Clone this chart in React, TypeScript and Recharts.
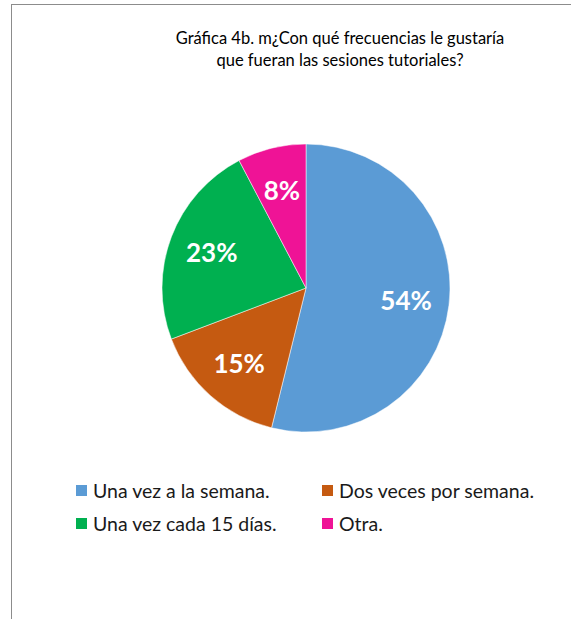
import React from 'react';
import { PieChart, Pie, Cell, Legend } from 'recharts';

const categories = ['Una vez a la semana.', 'Dos veces por semana.', 'Una vez cada 15 días.', 'Otra.'];
const counts = [14, 4, 6, 2];
const colors = ['#5B9BD5', '#C55A11', '#00B050', '#EF1396'];
const titleLines = ['Gráfica 4b. m¿Con qué frecuencias le gustaría', 'que fueran las sesiones tutoriales?'];

const data = categories.map((name, i) => ({ name, value: counts[i] }));

const RAD = Math.PI / 180;

const renderLabel = (props: any) => {
  const { cx, cy, midAngle, outerRadius, percent } = props;
  const r = outerRadius * 0.7;
  const x = cx + r * Math.cos(-midAngle * RAD);
  const y = cy + r * Math.sin(-midAngle * RAD);
  return (
    <text
      x={x}
      y={y}
      fill="#ffffff"
      textAnchor="middle"
      dominantBaseline="central"
      style={{ fontFamily: 'Lato, sans-serif', fontWeight: 700, fontSize: 26 }}
    >
      {Math.round(percent * 100) + '%'}
    </text>
  );
};

const LegendContent = () => (
  <div
    style={{
      display: 'grid',
      gridTemplateColumns: '246px 220px',
      rowGap: 12,
      fontFamily: 'Lato, sans-serif',
      fontSize: 19.5,
      color: '#1a1a1a',
    }}
  >
    {categories.map((c, i) => (
      <div key={c} style={{ display: 'flex', alignItems: 'center', height: 21, whiteSpace: 'nowrap' }}>
        <span style={{ display: 'inline-block', width: 11, height: 11, background: colors[i], marginRight: 6, flex: 'none' }} />
        <span>{c}</span>
      </div>
    ))}
  </div>
);

export default function App() {
  return (
    <div
      style={{
        position: 'absolute',
        left: 11,
        top: 4,
        width: 580,
        height: 630,
        borderTop: '1.5px solid #8c8c8c',
        borderLeft: '1.5px solid #8c8c8c',
        background: '#fff',
      }}
    >
      <div
        style={{
          position: 'absolute',
          left: 0,
          top: 22,
          width: 656,
          textAlign: 'center',
          fontFamily: 'Lato, sans-serif',
          fontSize: 16.5,
          lineHeight: '22px',
          color: '#000',
        }}
      >
        {titleLines.map((t) => (
          <div key={t}>{t}</div>
        ))}
      </div>
      <div style={{ position: 'absolute', left: 0, top: 0 }}>
        <PieChart width={580} height={630}>
          <Pie
            data={data}
            dataKey="value"
            nameKey="name"
            cx={289}
            cy={278}
            outerRadius={144}
            startAngle={90}
            endAngle={-270}
            stroke="#ffffff"
            strokeWidth={0.5}
            label={renderLabel}
            labelLine={false}
            isAnimationActive={false}
          >
            {data.map((d, i) => (
              <Cell key={d.name} fill={colors[i]} />
            ))}
          </Pie>
          <Legend
            content={<LegendContent />}
            wrapperStyle={{ position: 'absolute', left: 64, top: 475, width: 480 }}
          />
        </PieChart>
      </div>
    </div>
  );
}
